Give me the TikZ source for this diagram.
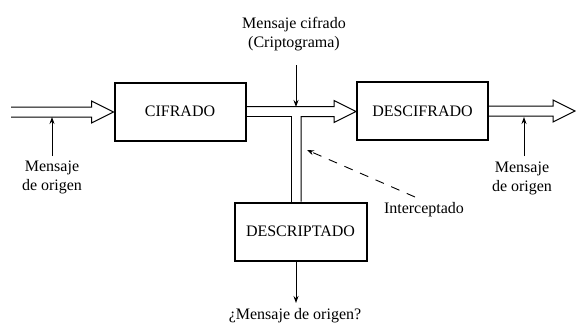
\documentclass[tikz,border=0pt]{standalone}
\usepackage{fontspec}
\setmainfont{Liberation Serif}
\usetikzlibrary{calc,arrows.meta}
\tikzset{
  blockbox/.style={draw, line width=2pt, minimum width=131pt, minimum height=58pt, inner sep=0pt, font=\fontsize{16}{19}\selectfont},
  lbl/.style={align=center, inner sep=0pt, font=\fontsize{16}{19}\selectfont},
  thin arrow/.style={line width=0.9pt, -{Stealth[length=7pt,width=5pt]}},
  dbl/.style={line width=1pt, line join=miter},
}
\begin{document}
\begin{tikzpicture}[x=1pt,y=-1pt]
\useasboundingbox (0,0) rectangle (576,327);
% blocks
\node[blockbox] (cif) at (180,111.5) {CIFRADO};
\node[blockbox] (desc) at (422.5,111) {DESCIFRADO};
\node[blockbox, minimum width=132pt] (dpt) at (300.5,231.5) {DESCRIPTADO};
% coordinates
\coordinate (in) at (11,112);
\coordinate (out) at (575,112);
\coordinate (tee) at (296,112);
% input hollow arrow
\draw[dbl] let \p1=(in), \p2=(cif.west) in
  (\x1,\y1+5) -- (\x2-22,\y1+5) -- (\x2-22,\y1+11) -- (\x2,\y1) -- (\x2-22,\y1-11) -- (\x2-22,\y1-5) -- (\x1,\y1-5);
% output hollow arrow
\draw[dbl] let \p1=(desc.east), \p2=(out) in
  (\x1,\y1+5) -- (\x2-22,\y1+5) -- (\x2-22,\y1+11) -- (\x2,\y1) -- (\x2-22,\y1-11) -- (\x2-22,\y1-5) -- (\x1,\y1-5);
% middle hollow arrow with T branch
\draw[dbl] let \p1=(cif.east), \p2=(desc.west), \p3=(tee), \p4=(dpt.north) in
  (\x1,\y1+5) -- (\x2-22,\y1+5) -- (\x2-22,\y1+11) -- (\x2,\y1) -- (\x2-22,\y1-11) -- (\x2-22,\y1-5)
  -- (\x3+5,\y1-5) -- (\x3+5,\y4);
\draw[dbl] let \p1=(cif.east), \p3=(tee), \p4=(dpt.north) in
  (\x1,\y1-5) -- (\x3-5,\y1-5) -- (\x3-5,\y4);
% labels
\node[lbl] (src1) at (52,177) {Mensaje\\de origen};
\node[lbl] (src2) at (522,178) {Mensaje\\de origen};
\node[lbl] (crip) at (294,34) {Mensaje cifrado\\(Criptograma)};
\node[lbl] (intc) at (424,210) {Interceptado};
\node[lbl] (res) at (295,316) {¿Mensaje de origen?};
% thin arrows
\coordinate (a1) at (52,117);
\coordinate (a2) at (524,117);
\coordinate (a3) at (296,107);
\coordinate (a4) at (307,150);
\coordinate (a4s) at (415,197);
\coordinate (a5) at (296,303);
\draw[thin arrow] (52,156) -- (a1);
\draw[thin arrow] (524,156) -- (a2);
\draw[thin arrow] (296,65) -- (a3);
\draw[thin arrow, dash pattern=on 9pt off 8pt] (a4s) -- (a4);
\draw[thin arrow] (dpt.south -| a5) -- (a5);
\end{tikzpicture}
\end{document}
